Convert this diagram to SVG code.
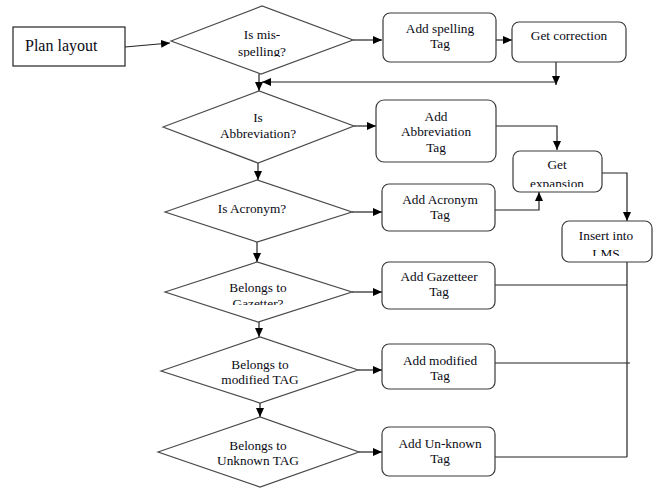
<svg xmlns="http://www.w3.org/2000/svg" width="657" height="488" viewBox="0 0 657 488">
  <style>
    .box { fill: #fff; stroke: #3a3a3a; stroke-width: 1.2; }
    .dia { fill: #fff; stroke: #4a4a4a; stroke-width: 1.2; }
    .lbl { font-family: "Liberation Serif", "Times New Roman", serif; font-size: 13.3px; fill: #0a0a14; text-anchor: middle; }
    .big { font-size: 16px; text-anchor: start; }
    .wire { fill: none; stroke: #222; stroke-width: 1.2; }
    .arr { marker-end: url(#head); }
  </style>
  <defs>
    <marker id="head" markerUnits="userSpaceOnUse" markerWidth="9" markerHeight="8" refX="9" refY="4" orient="auto">
      <path d="M0,0 L9,4 L0,8 z" fill="#000"/>
    </marker>
    <!-- label areas that cut off the second text line -->
    <clipPath id="clipMis"><rect x="200" y="20" width="120" height="37"/></clipPath>
    <clipPath id="clipExp"><rect x="513" y="151" width="89" height="36"/></clipPath>
    <clipPath id="clipLms"><rect x="562" y="221" width="90" height="35"/></clipPath>
    <clipPath id="clipGaz"><rect x="200" y="270" width="120" height="35"/></clipPath>
  </defs>

  <!-- connectors -->
  <g id="connectors">
    <path class="wire arr" d="M125,47 L170,43"/>
    <path class="wire arr" d="M353,40 L382,40"/>
    <path class="wire arr" d="M496,40 L512,40"/>
    <path class="wire arr" d="M556,62 L556,85"/>
    <path class="wire arr" d="M556,82 L262,82"/>
    <path class="wire arr" d="M259,74 L259,91"/>
    <path class="wire arr" d="M354,126 L376,126"/>
    <path class="wire arr" d="M496,126 L557,126 L557,150"/>
    <path class="wire arr" d="M258,163 L258,180"/>
    <path class="wire arr" d="M352,212 L382,212"/>
    <path class="wire arr" d="M495,210 L539,210 L539,192"/>
    <path class="wire arr" d="M602,173 L627,173 L627,221"/>
    <path class="wire arr" d="M257,242 L257,262"/>
    <path class="wire arr" d="M352,292 L382,292"/>
    <path class="wire" d="M495,285 L627,285"/>
    <path class="wire" d="M627,262 L627,457"/>
    <path class="wire arr" d="M259,322 L259,337"/>
    <path class="wire arr" d="M358,370 L382,370"/>
    <path class="wire" d="M495,363 L630,363"/>
    <path class="wire arr" d="M260,403 L260,417"/>
    <path class="wire arr" d="M359,452 L382,452"/>
    <path class="wire" d="M495,457 L627,457"/>
  </g>

  <g id="plan-layout">
    <rect class="box" x="13" y="27" width="112" height="39" style="stroke:#222"/>
    <text class="lbl big" x="25" y="51">Plan layout</text>
  </g>

  <g id="is-misspelling">
    <polygon class="dia" points="171,41 262,6 353,40 261,74"/>
    <g clip-path="url(#clipMis)">
      <text class="lbl" x="262" y="39">Is mis-</text>
      <text class="lbl" x="262" y="56">spelling?</text>
    </g>
  </g>

  <g id="add-spelling-tag">
    <rect class="box" x="383" y="13" width="113" height="49" rx="7"/>
    <text class="lbl" x="440" y="33">Add spelling</text>
    <text class="lbl" x="440" y="48">Tag</text>
  </g>

  <g id="get-correction">
    <rect class="box" x="512" y="22" width="114" height="40" rx="7"/>
    <text class="lbl" x="569" y="40">Get correction</text>
  </g>

  <g id="is-abbreviation">
    <polygon class="dia" points="163,127 259,91 354,126 258,163"/>
    <text class="lbl" x="258" y="122">Is</text>
    <text class="lbl" x="258" y="138">Abbreviation?</text>
  </g>

  <g id="add-abbreviation-tag">
    <rect class="box" x="376" y="100" width="120" height="62" rx="8"/>
    <text class="lbl" x="436" y="121">Add</text>
    <text class="lbl" x="436" y="136">Abbreviation</text>
    <text class="lbl" x="436" y="152">Tag</text>
  </g>

  <g id="get-expansion">
    <rect class="box" x="513" y="151" width="89" height="41" rx="7"/>
    <g clip-path="url(#clipExp)">
      <text class="lbl" x="557" y="169">Get</text>
      <text class="lbl" x="557" y="188">expansion</text>
    </g>
  </g>

  <g id="insert-into-lms">
    <rect class="box" x="562" y="221" width="90" height="41" rx="7"/>
    <g clip-path="url(#clipLms)">
      <text class="lbl" x="606" y="240">Insert into</text>
      <text class="lbl" x="606" y="258">LMS</text>
    </g>
  </g>

  <g id="is-acronym">
    <polygon class="dia" points="165,212 257,180 352,212 257,242"/>
    <text class="lbl" x="252" y="213">Is Acronym?</text>
  </g>

  <g id="add-acronym-tag">
    <rect class="box" x="382" y="184" width="113" height="47" rx="7"/>
    <text class="lbl" x="440" y="204">Add Acronym</text>
    <text class="lbl" x="440" y="219">Tag</text>
  </g>

  <g id="belongs-gazetter">
    <polygon class="dia" points="165,292 257,262 352,292 258,322"/>
    <g clip-path="url(#clipGaz)">
      <text class="lbl" x="258" y="292">Belongs to</text>
      <text class="lbl" x="258" y="308">Gazetter?</text>
    </g>
  </g>

  <g id="add-gazetteer-tag">
    <rect class="box" x="382" y="262" width="113" height="47" rx="7"/>
    <text class="lbl" x="439" y="281">Add Gazetteer</text>
    <text class="lbl" x="439" y="296">Tag</text>
  </g>

  <g id="belongs-modified">
    <polygon class="dia" points="161,371 260,337 358,370 260,403"/>
    <text class="lbl" x="260" y="369">Belongs to</text>
    <text class="lbl" x="260" y="384">modified TAG</text>
  </g>

  <g id="add-modified-tag">
    <rect class="box" x="382" y="344" width="113" height="45" rx="7"/>
    <text class="lbl" x="440" y="365">Add modified</text>
    <text class="lbl" x="440" y="380">Tag</text>
  </g>

  <g id="belongs-unknown">
    <polygon class="dia" points="158,452 260,417 359,452 260,487"/>
    <text class="lbl" x="258" y="450">Belongs to</text>
    <text class="lbl" x="258" y="465">Unknown TAG</text>
  </g>

  <g id="add-unknown-tag">
    <rect class="box" x="382" y="427" width="113" height="49" rx="7"/>
    <text class="lbl" x="440" y="448">Add Un-known</text>
    <text class="lbl" x="440" y="463">Tag</text>
  </g>
</svg>
